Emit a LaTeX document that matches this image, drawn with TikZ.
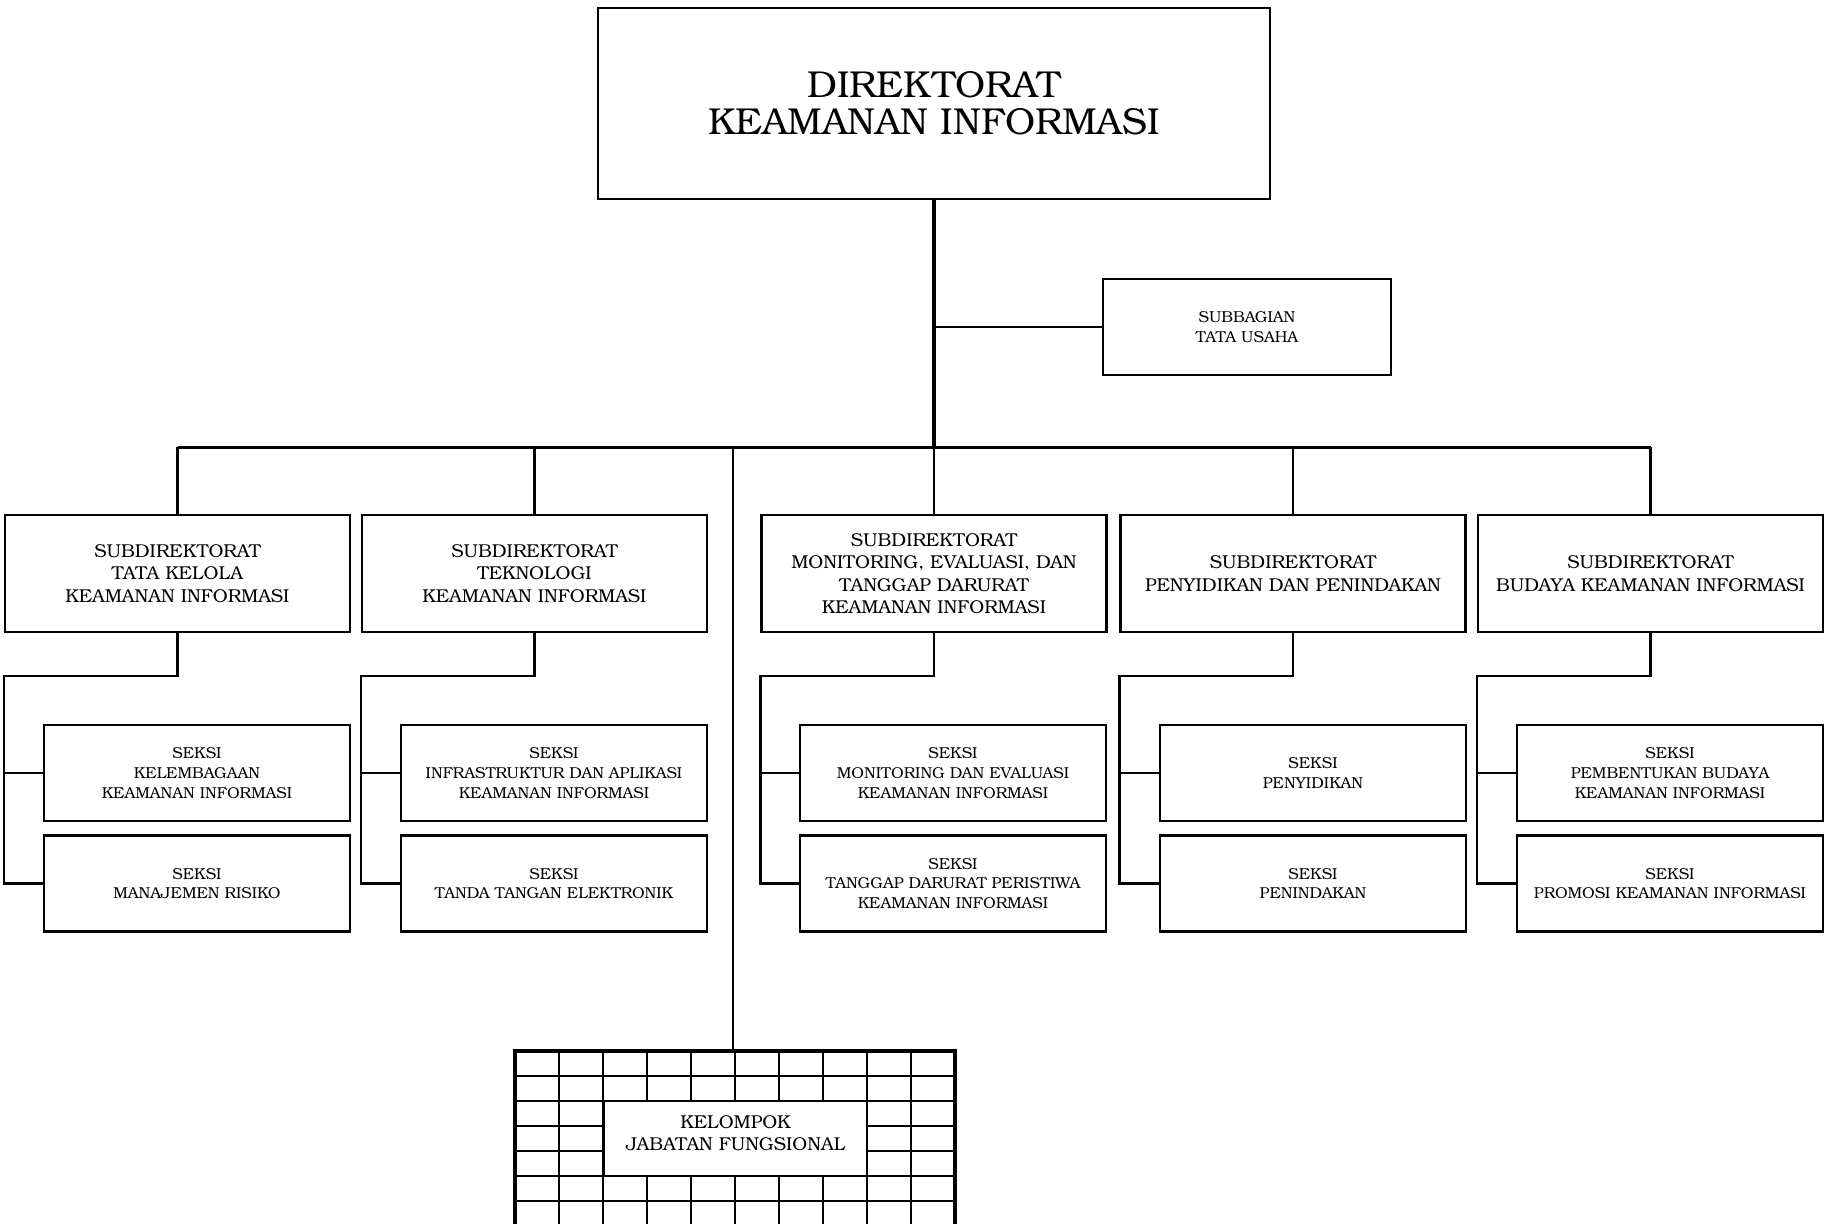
\documentclass[tikz,border=0pt]{standalone}
\usepackage{fontspec}
\setmainfont{TeX Gyre Bonum}
\newcommand\topfnt{\fontsize{18.75}{18.5}\selectfont}
\newcommand\subfnt{\fontsize{9.3}{11.25}\selectfont}
\newcommand\sekfnt{\fontsize{7.9}{9.85}\selectfont}
\begin{document}
\begin{tikzpicture}[x=0.5pt,y=-0.5pt,
  box/.style={draw,line width=1.05pt,align=center,inner sep=0pt,fill=white},
  topbox/.style={box,minimum width=336pt,minimum height=95.5pt,font=\topfnt},
  subbox/.style={box,minimum width=172.5pt,minimum height=58.5pt,font=\subfnt},
  sekbox/.style={box,minimum width=153pt,minimum height=48pt,font=\sekfnt},
  conn/.style={line width=1.05pt},
  trunk/.style={line width=1.6pt},
  busln/.style={line width=1.5pt},
  gridln/.style={line width=1.15pt},
  gridout/.style={line width=1.7pt}]
\useasboundingbox (0,0) rectangle (1824,1223);

% top
\node[topbox] (top) at (934,103.5) {DIREKTORAT\\KEAMANAN INFORMASI};
\node[sekbox,minimum width=144pt] (tu) at (1247,327) {SUBBAGIAN\\TATA USAHA};

% subdirektorat
\node[subbox] (S1) at (177.5,573.5) {SUBDIREKTORAT\\TATA KELOLA\\KEAMANAN INFORMASI};
\node[subbox] (S2) at (534.5,573.5) {SUBDIREKTORAT\\TEKNOLOGI\\KEAMANAN INFORMASI};
\node[subbox] (S3) at (934,573.5) {SUBDIREKTORAT\\MONITORING, EVALUASI, DAN\\TANGGAP DARURAT\\KEAMANAN INFORMASI};
\node[subbox] (S4) at (1293,573.5) {SUBDIREKTORAT\\PENYIDIKAN DAN PENINDAKAN};
\node[subbox] (S5) at (1650.5,573.5) {SUBDIREKTORAT\\BUDAYA KEAMANAN INFORMASI};

% seksi
\node[sekbox] (K1a) at (197,773) {SEKSI\\KELEMBAGAAN\\KEAMANAN INFORMASI};
\node[sekbox] (K1b) at (197,883.5) {SEKSI\\MANAJEMEN RISIKO};
\node[sekbox] (K2a) at (554,773) {SEKSI\\INFRASTRUKTUR DAN APLIKASI\\KEAMANAN INFORMASI};
\node[sekbox] (K2b) at (554,883.5) {SEKSI\\TANDA TANGAN ELEKTRONIK};
\node[sekbox] (K3a) at (953,773) {SEKSI\\MONITORING DAN EVALUASI\\KEAMANAN INFORMASI};
\node[sekbox] (K3b) at (953,883.5) {SEKSI\\TANGGAP DARURAT PERISTIWA\\KEAMANAN INFORMASI};
\node[sekbox] (K4a) at (1313,773) {SEKSI\\PENYIDIKAN};
\node[sekbox] (K4b) at (1313,883.5) {SEKSI\\PENINDAKAN};
\node[sekbox] (K5a) at (1670,773) {SEKSI\\PEMBENTUKAN BUDAYA\\KEAMANAN INFORMASI};
\node[sekbox] (K5b) at (1670,883.5) {SEKSI\\PROMOSI KEAMANAN INFORMASI};

% kelompok jabatan fungsional grid
\begin{scope}
\clip (0,0) rectangle (1824,1223);
\foreach \i in {1,...,9} \draw[gridln] (515+44*\i,1051) -- (515+44*\i,1230);
\foreach \j in {1,...,7} \draw[gridln] (515,1051+25*\j) -- (955,1051+25*\j);
\draw[gridout] (515,1230) -- (515,1051) -- (955,1051) -- (955,1230);
\end{scope}
\node[box,line width=1.15pt,minimum width=131.5pt,minimum height=37.5pt] (kjf) at (735.5,1138.5) {};
\node[align=center,inner sep=0pt,font=\subfnt] (kjft) at (735.5,1133) {KELOMPOK\\JABATAN FUNGSIONAL};
\coordinate (ktop) at (733,1051);

% connectors
\coordinate (bus) at (0,447);
\coordinate (elb) at (0,676);
\draw[trunk] (top.south) -- (top.south |- bus);
\draw[conn] (top.south |- tu.west) -- (tu.west);
\draw[busln] (S1.north |- bus) -- (S5.north |- bus);
\foreach \s in {S1,S2,S3,S4,S5} \draw[conn] (\s.north) -- (\s.north |- bus);
\draw[conn] (ktop |- bus) -- (ktop);

\foreach \n in {1,...,5}{
  \draw[conn] (S\n.south) -- (S\n.south |- elb) -- (S\n.south west |- elb)
     -- (S\n.south west |- K\n b.west) -- (K\n b.west);
  \draw[conn] (S\n.south west |- K\n a.west) -- (K\n a.west);
}
\end{tikzpicture}
\end{document}
